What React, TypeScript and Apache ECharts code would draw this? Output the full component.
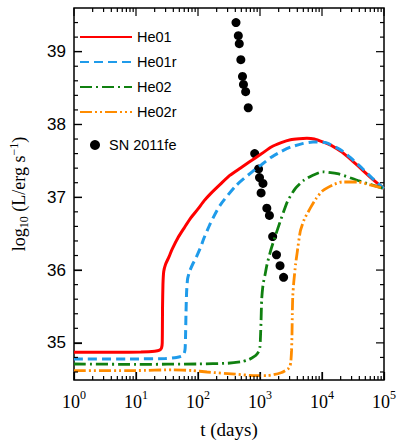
import React, { useEffect, useRef } from 'react';
import * as echarts from 'echarts';

// ---- data (t in days, log10 L) ----
const he01T = [1, 5, 12, 20, 24, 25.8, 26.5, 26.8, 27.2, 28, 30, 34, 38, 48, 60, 77, 100, 125, 160, 230, 325, 480, 660, 1070, 1520, 2200, 3100, 4300, 5700, 7500, 10250, 15000, 21000, 30000, 43000, 65000, 100000];
const he01L = [34.87, 34.87, 34.875, 34.885, 34.9, 34.93, 35.0, 35.5, 35.8, 35.98, 36.08, 36.18, 36.28, 36.45, 36.58, 36.72, 36.84, 36.95, 37.05, 37.18, 37.3, 37.4, 37.48, 37.6, 37.69, 37.75, 37.79, 37.805, 37.81, 37.8, 37.76, 37.7, 37.62, 37.51, 37.39, 37.25, 37.12];

const he01rT = [1, 10, 30, 45, 55, 60, 62, 63, 64, 65.5, 68, 73, 82, 93, 111, 125, 160, 227, 410, 746, 1067, 1520, 2200, 3120, 5000, 7180, 11560, 21000, 30000, 42850, 65000, 100000];
const he01rL = [34.78, 34.78, 34.785, 34.8, 34.82, 34.86, 34.92, 35.1, 35.4, 35.7, 35.88, 35.98, 36.08, 36.17, 36.32, 36.44, 36.65, 36.89, 37.16, 37.35, 37.45, 37.55, 37.63, 37.69, 37.74, 37.76, 37.75, 37.64, 37.53, 37.41, 37.26, 37.12];

const he02T = [1, 10, 100, 300, 500, 660, 800, 900, 960, 1000, 1020, 1040, 1065, 1120, 1202, 1300, 1435, 1524, 1936, 2767, 3700, 5012, 7000, 10250, 18620, 38100, 100000];
const he02L = [34.71, 34.705, 34.71, 34.72, 34.74, 34.77, 34.81, 34.85, 34.89, 34.95, 35.1, 35.3, 35.6, 35.8, 35.93, 36.08, 36.22, 36.3, 36.57, 36.94, 37.12, 37.23, 37.3, 37.35, 37.32, 37.23, 37.12];

const he02rT = [1, 10, 40, 80, 140, 400, 840, 1300, 2180, 2800, 3050, 3150, 3230, 3280, 3320, 3380, 3510, 3750, 3963, 4460, 5200, 6370, 8000, 10250, 15000, 21000, 38100, 60000, 100000];
const he02rL = [34.62, 34.62, 34.63, 34.62, 34.6, 34.57, 34.55, 34.55, 34.59, 34.64, 34.68, 34.75, 34.9, 35.1, 35.4, 35.65, 35.84, 36.08, 36.23, 36.53, 36.7, 36.84, 36.98, 37.09, 37.17, 37.21, 37.21, 37.17, 37.12];

const snT = [410, 447, 463, 491, 522, 541, 587, 646, 821, 948, 982, 1042, 1117, 1289, 1419, 1600, 1845, 2105, 2400];
const snL = [39.40, 39.22, 39.11, 38.89, 38.66, 38.55, 38.45, 38.23, 37.60, 37.39, 37.27, 37.06, 37.19, 36.85, 36.75, 36.46, 36.21, 36.06, 35.90];

// ---- ticks ----
const yMajor = [35, 36, 37, 38, 39];
const yMinor = [34.6, 34.8, 35.2, 35.4, 35.6, 35.8, 36.2, 36.4, 36.6, 36.8, 37.2, 37.4, 37.6, 37.8, 38.2, 38.4, 38.6, 38.8, 39.2, 39.4];
const xMajor = [1, 10, 100, 1000, 10000, 100000];
const xMinor: number[] = [];
for (let d = 0; d < 5; d++) for (let k = 2; k <= 9; k++) xMinor.push(k * Math.pow(10, d));

const Y_MIN = 34.49;
const Y_MAX = 39.6;
const X_MIN = 1;
const X_MAX = 100000;

const zip = (a: number[], b: number[]) => a.map((v, i) => [v, b[i]]);
const black = '#000';

// tick records: [value, kind, side] kind 0=y major,1=y minor,2=x major,3=x minor; side 0/1
const tickData: number[][] = [];
for (const s of [0, 1]) {
  yMajor.forEach((v) => tickData.push([v, 0, s]));
  yMinor.forEach((v) => tickData.push([v, 1, s]));
  xMajor.forEach((v) => tickData.push([v, 2, s]));
  xMinor.forEach((v) => tickData.push([v, 3, s]));
}

export default function App() {
  const ref = useRef<HTMLDivElement>(null);
  useEffect(() => {
    const chart = echarts.init(ref.current!, null, { renderer: 'svg' });
    const option: any = {
      animation: false,
      backgroundColor: '#fff',
      grid: { left: 65, right: 12, top: 8, bottom: 62, show: true, borderColor: black, borderWidth: 1.5, backgroundColor: 'transparent' },
      xAxis: {
        type: 'log',
        logBase: 10,
        min: X_MIN,
        max: X_MAX,
        axisLine: { show: false },
        axisTick: { show: true, inside: true, length: 8, customValues: xMajor, lineStyle: { color: black, width: 1.2 } },
        splitLine: { show: false },
        axisLabel: {
          customValues: xMajor,
          margin: 9,
          formatter: (v: number) => '{b|10}{s|' + Math.round(Math.log10(v)) + '}',
          rich: {
            b: { fontFamily: 'Liberation Serif', fontSize: 18, lineHeight: 22, verticalAlign: 'bottom', color: black },
            s: { fontFamily: 'Liberation Serif', fontSize: 12, lineHeight: 12, verticalAlign: 'top', color: black },
          },
        },
        name: 't (days)',
        nameLocation: 'middle',
        nameGap: 40,
        nameTextStyle: { fontFamily: 'Liberation Serif', fontSize: 19, color: black },
      },
      yAxis: {
        type: 'value',
        min: Y_MIN,
        max: Y_MAX,
        axisLine: { show: false },
        axisTick: { show: true, inside: true, length: 8, customValues: yMajor, lineStyle: { color: black, width: 1.2 } },
        splitLine: { show: false },
        axisLabel: { customValues: yMajor, fontFamily: 'Liberation Sans', fontSize: 17, color: black, margin: 8 },
        name: 'log{sub|10} (L/erg s{sup|\u22121})',
        nameLocation: 'middle',
        nameGap: 44,
        nameTextStyle: {
          fontFamily: 'Liberation Serif',
          fontSize: 18,
          lineHeight: 22,
          color: black,
          rich: {
            sub: { fontFamily: 'Liberation Serif', fontSize: 12, lineHeight: 12, verticalAlign: 'bottom', color: black },
            sup: { fontFamily: 'Liberation Serif', fontSize: 12, lineHeight: 12, verticalAlign: 'top', color: black },
          },
        },
      },
      legend: [
        {
          data: ['He01', 'He01r', 'He02', 'He02r'],
          orient: 'vertical',
          left: 79,
          top: 29.5,
          padding: 0,
          itemWidth: 52,
          itemHeight: 14,
          itemGap: 10,
          itemStyle: { opacity: 0 },
          textStyle: { fontFamily: 'Liberation Sans', fontSize: 14.5, color: black },
        },
        {
          data: ['SN 2011fe'],
          orient: 'vertical',
          left: 90,
          top: 137.5,
          padding: 0,
          itemWidth: 18,
          itemHeight: 10,
          textStyle: { fontFamily: 'Liberation Sans', fontSize: 14.5, color: black },
        },
      ],
      series: [
        {
          name: 'He01', type: 'line', symbol: 'none', smooth: 0.2,
          data: zip(he01T, he01L),
          itemStyle: { color: '#f00' },
          lineStyle: { color: '#f00', width: 3 },
        },
        {
          name: 'He01r', type: 'line', symbol: 'none', smooth: 0.2,
          data: zip(he01rT, he01rL),
          itemStyle: { color: '#1f9bea' },
          lineStyle: { color: '#1f9bea', width: 3, type: [9, 5] },
        },
        {
          name: 'He02', type: 'line', symbol: 'none', smooth: 0.2,
          data: zip(he02T, he02L),
          itemStyle: { color: '#108010' },
          lineStyle: { color: '#108010', width: 2.8, type: [12, 4, 2, 4] },
        },
        {
          name: 'He02r', type: 'line', symbol: 'none', smooth: 0.2,
          data: zip(he02rT, he02rL),
          itemStyle: { color: '#ff8c00' },
          lineStyle: { color: '#ff8c00', width: 2.8, type: [12, 3, 2, 3, 2, 3] },
        },
        {
          name: 'SN 2011fe', type: 'scatter', symbol: 'circle', symbolSize: 9,
          data: zip(snT, snL),
          itemStyle: { color: black, opacity: 1 },
        },
        {
          type: 'custom',
          clip: false,
          data: tickData,
          z: 10,
          renderItem: (params: any, api: any) => {
            const v = api.value(0);
            const k = api.value(1);
            const s = api.value(2);
            if (k < 2) {
              const len = k === 0 ? 8 : 4;
              const p = api.coord([s === 0 ? X_MIN : X_MAX, v]);
              const x0 = s === 0 ? p[0] : p[0] - len;
              return {
                type: 'rect',
                shape: { x: x0, y: p[1] - 0.6, width: len, height: 1.2 },
                style: { fill: black },
              };
            }
            const len = k === 2 ? 8 : 4;
            const p = api.coord([v, s === 0 ? Y_MIN : Y_MAX]);
            const y0 = s === 0 ? p[1] - len : p[1];
            return {
              type: 'rect',
              shape: { x: p[0] - 0.6, y: y0, width: 1.2, height: len },
              style: { fill: black },
            };
          },
        },
      ],
    };
    chart.setOption(option);
    return () => chart.dispose();
  }, []);
  return (
    <div
      ref={ref}
      style={{ position: 'fixed', left: 0, top: 0, width: 399, height: 444, background: '#fff' }}
    />
  );
}
